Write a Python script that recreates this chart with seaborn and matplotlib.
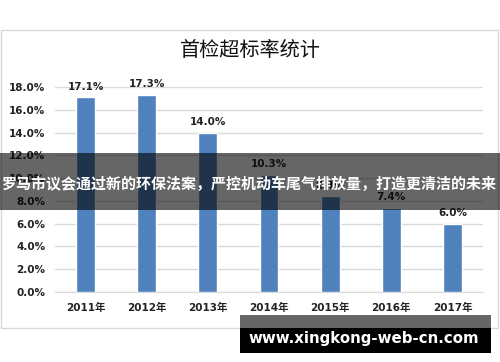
import matplotlib
matplotlib.use("Agg")
import matplotlib.pyplot as plt
import seaborn as sns
import pandas as pd
from matplotlib.patches import Rectangle
from matplotlib.ticker import FuncFormatter

years = ["2011年", "2012年", "2013年", "2014年", "2015年", "2016年", "2017年"]
rates = [17.1, 17.3, 14.0, 10.3, 8.4, 7.4, 6.0]
title = "首检超标率统计"
banner = "罗马市议会通过新的环保法案，严控机动车尾气排放量，打造更清洁的未来"
watermark = "www.xingkong-web-cn.com"

sns.set_style("white")
plt.rcParams['font.family'] = ['DejaVu Sans', 'Noto Sans CJK SC']

W, H = 500, 362
fig = plt.figure(figsize=(5, 3.62), dpi=100)
fig.patch.set_facecolor("white")

def fx(x): return x / W
def fy(y): return 1 - y / H

# chart frame
fig.patches.append(Rectangle((fx(1), fy(328)), fx(497), (328 - 30) / H, transform=fig.transFigure,
                             facecolor="white", edgecolor="#d9d9d9", linewidth=1.0, zorder=-1))

ax = fig.add_axes([fx(55), fy(292), fx(483 - 55), (292 - 87) / H])
ax.set_zorder(1)
df = pd.DataFrame({"year": years, "rate": rates})
sns.barplot(data=df, x="year", y="rate", color="#4f81bd", saturation=1, width=0.31, ax=ax, zorder=3)
ax.set_ylim(0, 18)
ax.set_yticks(range(0, 19, 2))
ax.yaxis.set_major_formatter(FuncFormatter(lambda v, p: f"{v:.1f}%"))
ax.grid(axis="y", color="#d9d9d9", linewidth=1.0, zorder=0)
ax.set_axisbelow(True)
for s in ["top", "right", "left"]:
    ax.spines[s].set_visible(False)
ax.spines["bottom"].set_color("#d9d9d9")
ax.set_xlabel("")
ax.set_ylabel("")
ax.tick_params(axis="both", length=0, labelsize=7.5, colors="#222222")
ax.tick_params(axis="x", pad=8)
ax.tick_params(axis="y", pad=7)
for lab in ax.get_xticklabels() + ax.get_yticklabels():
    lab.set_fontweight("bold")
ax.patch.set_alpha(0)
for i, v in enumerate(rates):
    ax.annotate(f"{v:.1f}%", (i, v), xytext=(0, 4), textcoords="offset points",
                ha="center", va="bottom", fontsize=7.5, fontweight="bold", color="#222222")

fig.text(0.5, fy(50), title, ha="center", va="center", fontsize=14.5,
         family=['Noto Sans CJK SC', 'DejaVu Sans'], color="#111111")

# banner overlay
fig.patches.append(Rectangle((0, fy(210)), 1, (210 - 153) / H, transform=fig.transFigure,
                             facecolor="black", alpha=0.6, edgecolor="none", zorder=10))
fig.text(fx(249), fy(184), banner, ha="center", va="center", fontsize=10.8, fontweight="bold",
         color="white", family=['Noto Sans CJK SC', 'DejaVu Sans'], zorder=11)

# watermark
fig.patches.append(Rectangle((fx(240), fy(328)), fx(251), 13 / H, transform=fig.transFigure,
                             facecolor="black", alpha=0.6, edgecolor="none", zorder=10))
fig.patches.append(Rectangle((fx(240), fy(353)), fx(251), 25 / H, transform=fig.transFigure,
                             facecolor="black", edgecolor="none", zorder=10))
fig.text(fx(364), fy(339), watermark, ha="center", va="center", fontsize=10.8, fontweight="bold",
         color="white", family=['DejaVu Sans'], zorder=11)

fig.savefig("out.png", dpi=100)
